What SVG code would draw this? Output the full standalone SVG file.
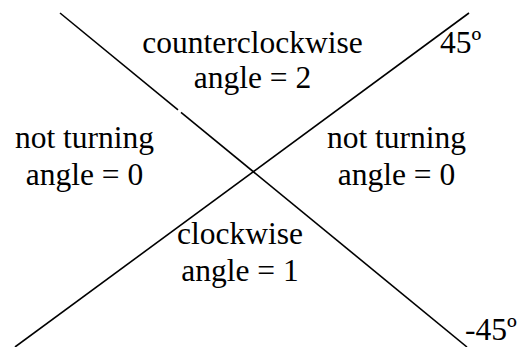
<svg xmlns="http://www.w3.org/2000/svg" width="517" height="347" viewBox="0 0 517 347">
<style>
text{font-family:"Liberation Serif","Times New Roman",serif;font-size:31.5px;fill:#000;text-anchor:middle}
.l{stroke:#000;stroke-width:1.6;fill:none}
</style>
<rect width="517" height="347" fill="#fff"/>
<g id="connectors">
<line class="l" x1="60" y1="13" x2="178" y2="109.8"/>
<line class="l" x1="181" y1="112.3" x2="467" y2="347"/>
<line class="l" x1="469" y1="13" x2="15" y2="347"/>
</g>
<g id="ccw"><text x="252.5" y="52.5">counterclockwise</text><text x="252.5" y="88">angle = 2</text></g>
<g id="left"><text x="84.5" y="148">not turning</text><text x="84.5" y="185">angle = 0</text></g>
<g id="right"><text x="396.5" y="148">not turning</text><text x="396.5" y="185">angle = 0</text></g>
<g id="cw"><text x="240" y="243.5">clockwise</text><text x="240" y="281">angle = 1</text></g>
<g id="a45"><text x="440" y="52.5" style="text-anchor:start">45º</text></g>
<g id="am45"><text x="465" y="340" style="text-anchor:start">-45º</text></g>
</svg>
